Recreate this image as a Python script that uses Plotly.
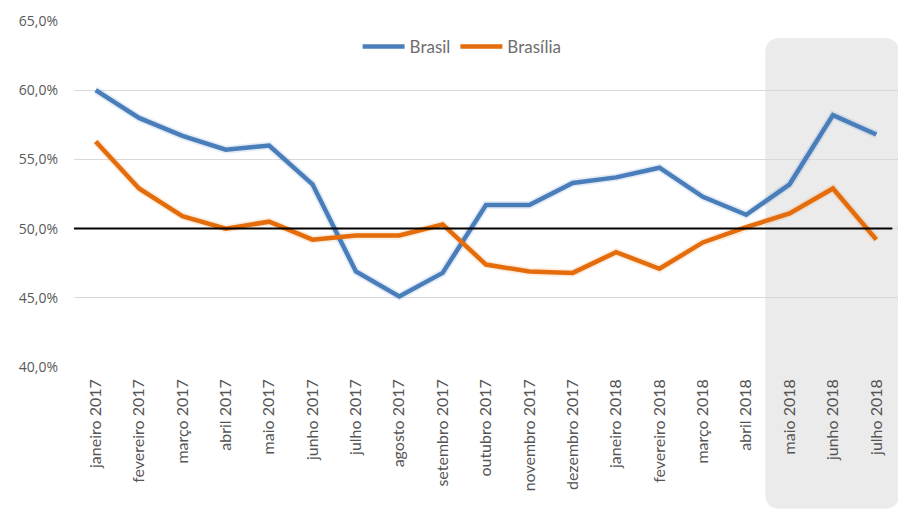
import plotly.graph_objects as go

# Monthly shares (%) for Brazil and Brasília
months = [
    "janeiro 2017", "fevereiro 2017", "março 2017", "abril 2017", "maio 2017",
    "junho 2017", "julho 2017", "agosto 2017", "setembro 2017", "outubro 2017",
    "novembro 2017", "dezembro 2017", "janeiro 2018", "fevereiro 2018",
    "março 2018", "abril 2018", "maio 2018", "junho 2018", "julho 2018",
]
brasil = [60.0, 58.0, 56.7, 55.7, 56.0, 53.2, 46.9, 45.1, 46.8, 51.7,
          51.7, 53.3, 53.7, 54.4, 52.3, 51.0, 53.2, 58.2, 56.8]
brasilia = [56.3, 52.9, 50.9, 50.0, 50.5, 49.2, 49.5, 49.5, 50.3, 47.4,
            46.9, 46.8, 48.3, 47.1, 49.0, 50.1, 51.1, 52.9, 49.2]
y_ticks = [40, 45, 50, 55, 60, 65]
y_ticktext = ["40,0%", "45,0%", "50,0%", "55,0%", "60,0%", "65,0%"]
reference_level = 50.0
highlight_from = "maio 2018"

BLUE = "#4A7EBB"
ORANGE = "#E46C0A"

idx = list(range(len(months)))
fig = go.Figure()

# soft glow under each line
for vals, glow in ((brasil, "rgba(74,126,187,0.15)"), (brasilia, "rgba(228,108,10,0.12)")):
    fig.add_trace(go.Scatter(x=idx, y=vals, mode="lines", showlegend=False,
                             hoverinfo="skip",
                             line=dict(color=glow, width=8)))

fig.add_trace(go.Scatter(x=idx, y=brasil, mode="lines", name="Brasil",
                         line=dict(color=BLUE, width=4.5)))
fig.add_trace(go.Scatter(x=idx, y=brasilia, mode="lines", name="Brasília",
                         line=dict(color=ORANGE, width=4.5)))

# shaded panel with rounded corners behind the latest months
x0 = months.index(highlight_from) - 0.56
x1 = len(months) - 1 + 0.53
y0, y1 = -0.41, 0.951
rx, ry = 0.35, 0.045
panel = (f"M {x0+rx},{y1} L {x1-rx},{y1} Q {x1},{y1} {x1},{y1-ry} "
         f"L {x1},{y0+ry} Q {x1},{y0} {x1-rx},{y0} "
         f"L {x0+rx},{y0} Q {x0},{y0} {x0},{y0+ry} "
         f"L {x0},{y1-ry} Q {x0},{y1} {x0+rx},{y1} Z")
fig.add_shape(type="path", path=panel, xref="x", yref="paper",
              fillcolor="#EBEBEB", line=dict(width=0), layer="below")

# 50% reference line
fig.add_shape(type="line", xref="x", yref="y",
              x0=-0.5, x1=len(months) - 1 + 0.37,
              y0=reference_level, y1=reference_level,
              line=dict(color="black", width=2))

fig.update_layout(
    width=899, height=512,
    margin=dict(l=74, r=1, t=21, b=145),
    paper_bgcolor="white", plot_bgcolor="rgba(0,0,0,0)",
    font=dict(family="Open Sans, sans-serif", color="#595959"),
    legend=dict(orientation="h", x=0.471, xanchor="center", y=0.925,
                yanchor="middle", bgcolor="rgba(0,0,0,0)",
                font=dict(family="Lato, sans-serif", size=17, color="#6E6E6E"),
                itemwidth=42, traceorder="normal"),
    xaxis=dict(
        range=[-0.5, len(months) - 0.5],
        tickvals=idx, ticktext=months, tickangle=-90,
        tickfont=dict(family="Lato, sans-serif", size=16, color="#555555"),
        showgrid=False, zeroline=False, showline=False, ticks="",
        ticklabelstandoff=8, fixedrange=True,
    ),
    yaxis=dict(
        range=[40, 65], tickvals=y_ticks, ticktext=y_ticktext,
        tickfont=dict(size=14, color="#595959"),
        showgrid=True, gridcolor="#D9D9D9", gridwidth=1,
        zeroline=False, showline=False, ticks="", ticklabelstandoff=15,
    ),
)

fig.write_html("out.html")
